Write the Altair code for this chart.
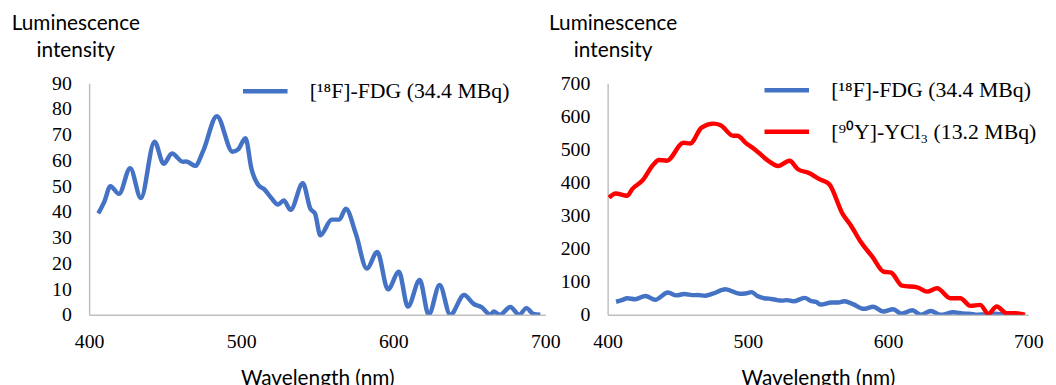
import altair as alt
import pandas as pd

# [18F]-FDG spectrum (wavelength nm, luminescence intensity)
fdg_nm = [406, 410, 414, 419.6, 427, 434, 443, 449, 454.5, 461.6, 464, 469.7, 475, 484,
          494.3, 498, 502.8, 506.8, 511.6, 515, 519.8, 524.2, 528, 532.5, 540.5, 545.5,
          548.6, 552, 559.5, 564.5, 568.8, 575.4, 582.6, 589.5, 596.5, 603.7, 609.6,
          617.4, 623.3, 630.5, 637.5, 646.6, 653, 658, 664, 666, 670, 677, 682.8, 687.6,
          692, 696.7]
fdg_val = [39.4, 44, 50, 47, 57, 45.4, 67.3, 58.7, 62.7, 59.5, 59.6, 57.9, 63.7, 77.2,
           63.4, 64.3, 68.6, 56.6, 50.2, 48.9, 45.4, 42.9, 44.4, 40.8, 51.1, 41.2,
           39.3, 30.9, 37, 37, 41.2, 31.5, 18, 24.4, 9.9, 16.7, 3.2,
           13.5, 0, 11.6, 0, 7.7, 4.2, 3, 0, 1.3, 0, 3, 0, 2.6,
           0.4, 0]

# [90Y]-YCl3 spectrum
y90_nm = [401, 405.7, 414, 417.5, 424.6, 432.8, 436.4, 442.3, 454, 458.9, 467, 475.4,
          480.6, 489.6, 492.4, 499, 505, 514.4, 521.5, 529.8, 535.7, 544, 551, 558,
          567.6, 573.5, 580.6, 588.9, 597, 602, 610, 620.8, 627.9, 635, 644.5, 651.6,
          658.7, 665.7, 671.6, 677.5, 684.6, 690.6, 697.7]
y90_val = [354, 367, 360, 380, 405, 455, 468, 466, 520, 518, 566, 578,
           573, 541, 541, 518, 500, 466, 450, 466, 440, 428, 410, 395,
           305, 270, 220, 175, 130, 128, 88, 83, 70, 80, 50, 50,
           27, 30, 3, 25, 5, 5, 0]

x_ticks = [400, 500, 600, 700]
left_y_ticks = [0, 10, 20, 30, 40, 50, 60, 70, 80, 90]
right_y_ticks = [0, 100, 200, 300, 400, 500, 600, 700]

FDG = "[¹⁸F]-FDG (34.4 MBq)"
YCL = "[⁹⁰Y]-YCl₃ (13.2 MBq)"
BLUE = "#4472C4"
RED = "#FF0000"
AXIS_GRAY = "#BFBFBF"

fdg = pd.DataFrame({"nm": fdg_nm, "val": fdg_val, "series": FDG})
ycl = pd.DataFrame({"nm": y90_nm, "val": y90_val, "series": YCL})
both = pd.concat([fdg, ycl], ignore_index=True)

SERIF = "Liberation Serif"
SANS = "Lato"


def x_axis():
    return alt.Axis(values=x_ticks, title="Wavelength (nm)", labelPadding=17,
                    titlePadding=16, labelFlush=False, domain=True,
                    domainColor=AXIS_GRAY, domainWidth=1.5)


def y_axis(ticks, tx):
    return alt.Axis(values=ticks, title=["Luminescence", "intensity"], titleAngle=0,
                    titleAlign="center", titleBaseline="alphabetic", titleX=tx,
                    titleY=-54, titleLineHeight=27, labelPadding=18, labelFlush=False,
                    domain=True, domainColor=AXIS_GRAY, domainWidth=1.5)


def legend(lx, ly):
    return alt.Legend(title=None, orient="none", legendX=lx, legendY=ly,
                      direction="vertical", symbolType="stroke", symbolSize=2025,
                      symbolStrokeWidth=4.5, labelFont=SERIF, labelFontSize=22,
                      labelColor="black", labelOffset=20, rowPadding=6, padding=0,
                      labelLimit=0)


left = alt.Chart(fdg).mark_line(strokeWidth=4.5, interpolate="monotone", clip=True).encode(
    x=alt.X("nm:Q", scale=alt.Scale(domain=[400, 700], nice=False), axis=x_axis()),
    y=alt.Y("val:Q", scale=alt.Scale(domain=[0, 90], nice=False), axis=y_axis(left_y_ticks, -14)),
    color=alt.Color("series:N", scale=alt.Scale(domain=[FDG], range=[BLUE]),
                    legend=legend(153, -17)),
).properties(width=461, height=234)

right = alt.Chart(both).mark_line(strokeWidth=4.5, interpolate="monotone", clip=True).encode(
    x=alt.X("nm:Q", scale=alt.Scale(domain=[400, 700], nice=False), axis=x_axis()),
    y=alt.Y("val:Q", scale=alt.Scale(domain=[0, 700], nice=False), axis=y_axis(right_y_ticks, 5)),
    color=alt.Color("series:N", scale=alt.Scale(domain=[FDG, YCL], range=[BLUE, RED]),
                    legend=legend(156, -18)),
    order=alt.Order("series:N"),
).properties(width=425, height=234)

chart = alt.hconcat(left, right, spacing=63, bounds="flush").resolve_scale(
    color="independent", x="independent", y="independent"
).resolve_legend(color="independent").properties(
    padding={"top": 3, "left": 3, "right": 5, "bottom": 5}
).configure_view(
    stroke=None
).configure_axis(
    grid=False, ticks=False,
    labelFont=SERIF, labelFontSize=20, labelColor="black",
    titleFont=SANS, titleFontSize=21, titleFontWeight="normal", titleColor="black",
)

chart.save("out.html", embed_options={"renderer": "svg", "actions": False})
